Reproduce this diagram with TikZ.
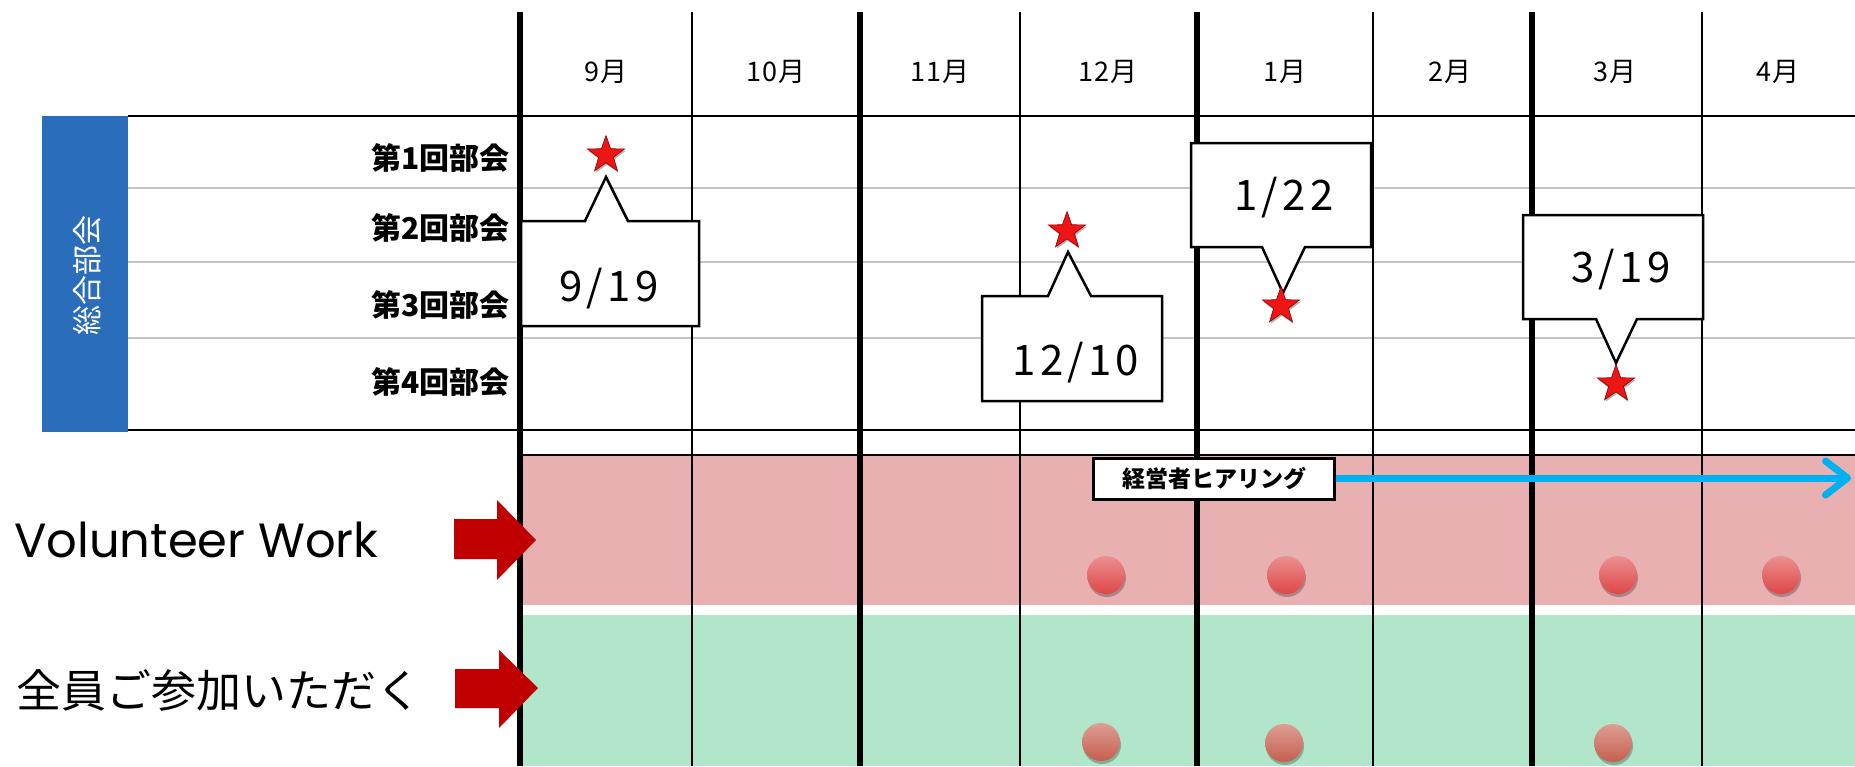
\documentclass[tikz,border=0pt]{standalone}
\usepackage{fontspec}
\setmainfont{Noto Sans CJK JP}
\newfontfamily\datefont[LetterSpace=10]{Noto Sans CJK JP}
\newfontfamily\monthfont[LetterSpace=4]{Noto Sans CJK JP}
\newfontfamily\latinfont{Poppins}
\usetikzlibrary{shapes.geometric,arrows.meta,shadows}
\definecolor{barblue}{HTML}{2A6EBB}
\definecolor{gridgray}{HTML}{C4C4C4}
\definecolor{pinkband}{HTML}{E8B0B0}
\definecolor{greenband}{HTML}{B2E6CA}
\definecolor{arrowred}{HTML}{C00000}
\definecolor{skyblue}{HTML}{00B0F0}
\definecolor{dotred}{HTML}{DE4646}
\definecolor{dotbrown}{HTML}{C65E4E}
\definecolor{starred}{HTML}{F01515}
\begin{document}
\begin{tikzpicture}[x=1pt,y=-1pt,
  rowline/.style={draw=gridgray,line width=2pt},
  hline/.style={draw=black,line width=2.5pt},
  thickv/.style={draw=black,line width=5.5pt},
  thinv/.style={draw=black,line width=2pt},
  monthlbl/.style={font=\monthfont\fontsize{27}{27}\selectfont,inner sep=0pt},
  rowlbl/.style={font=\fontsize{30}{30}\selectfont\bfseries,anchor=east,inner sep=0pt},
  callout/.style={fill=white,draw=black,line width=2.5pt,line join=miter},
  datelbl/.style={font=\datefont\fontsize{42}{42}\selectfont,inner sep=0pt},
  starmark/.style={star,star points=5,star point ratio=2.5,minimum size=39pt,inner sep=0pt,
    fill=starred,draw=red!55!black,line width=0.6pt,
    drop shadow={shadow xshift=1pt,shadow yshift=-2pt,opacity=0.3,fill=black}},
  dotA/.style={circle,minimum size=38pt,inner sep=0pt,top color=dotred!60!white,bottom color=dotred,
    drop shadow={shadow xshift=1pt,shadow yshift=-3pt,opacity=0.25,fill=black}},
  dotB/.style={circle,minimum size=38pt,inner sep=0pt,top color=dotbrown!60!white,bottom color=dotbrown,
    drop shadow={shadow xshift=1pt,shadow yshift=-3pt,opacity=0.25,fill=black}},
  bigarrow/.style={fill=arrowred},
  sidelbl/.style={anchor=west,inner sep=0pt}
]
\useasboundingbox (0,0) rectangle (1855,766);
\fill[white] (0,0) rectangle (1855,766);

% blue bar
\fill[barblue] (42,116) rectangle (128,432);
\node[rotate=90,text=white,font=\fontsize{30}{30}\selectfont,inner sep=0pt] (bar) at (87,275) {総合部会};

% bands
\fill[pinkband] (520,455) rectangle (1855,605);
\fill[greenband] (520,615) rectangle (1855,766);

% grid
\foreach \y in {188,262,338} \draw[rowline] (128,\y) -- (1855,\y);
\draw[hline] (128,116) -- (1855,116);
\draw[hline] (128,430) -- (1855,430);
\draw[hline] (520,455) -- (1855,455);
\foreach \x in {692,1020,1373,1702} \draw[thinv] (\x,12) -- (\x,766);
\foreach \x in {520,860,1197,1532} \draw[thickv] (\x,12) -- (\x,766);

% months
\node[monthlbl] (m9) at (606,72) {9月};
\node[monthlbl] (m10) at (776,72) {10月};
\node[monthlbl] (m11) at (940,72) {11月};
\node[monthlbl] (m12) at (1108,72) {12月};
\node[monthlbl] (m1) at (1285,72) {1月};
\node[monthlbl] (m2) at (1450,72) {2月};
\node[monthlbl] (m3) at (1615,72) {3月};
\node[monthlbl] (m4) at (1778,72) {4月};

% row labels
\node[rowlbl] (r1) at (510,158) {第1回部会};
\node[rowlbl] (r2) at (510,228) {第2回部会};
\node[rowlbl] (r3) at (510,305) {第3回部会};
\node[rowlbl] (r4) at (510,382) {第4回部会};

% callouts
\draw[callout] (521,221) -- (585,221) -- (606,177) -- (628,221) -- (699,221) -- (699,326) -- (521,326) -- cycle;
\node[datelbl] (d1) at (609,289) {9/19};
\node[starmark] (s1) at (606,155) {};

\draw[callout] (982,296) -- (1048,296) -- (1068,252) -- (1091,296) -- (1162,296) -- (1162,401) -- (982,401) -- cycle;
\node[datelbl] (d2) at (1076,363) {12/10};
\node[starmark] (s2) at (1067,231) {};

\draw[callout] (1191,143) -- (1371,143) -- (1371,247) -- (1305,247) -- (1283,293) -- (1262,247) -- (1191,247) -- cycle;
\node[datelbl] (d3) at (1284,198) {1/22};
\node[starmark] (s3) at (1281,306) {};

\draw[callout] (1523,215) -- (1703,215) -- (1703,319) -- (1637,319) -- (1616,363) -- (1596,319) -- (1523,319) -- cycle;
\node[datelbl] (d4) at (1621,270) {3/19};
\node[starmark] (s4) at (1616,384) {};

% lower section labels and arrows
\node[sidelbl,font=\latinfont\fontsize{48}{48}\selectfont] (vw) at (14,540) {Volunteer Work};
\node[sidelbl,font=\fontsize{45}{45}\selectfont] (all) at (16,690) {全員ご参加いただく};
\fill[bigarrow] (454,519) -- (497,519) -- (497,500) -- (536,540) -- (497,580) -- (497,559) -- (454,559) -- cycle;
\fill[bigarrow] (455,669) -- (499,669) -- (499,650) -- (538,688) -- (499,728) -- (499,708) -- (455,708) -- cycle;

% hearing
\node[draw=black,fill=white,line width=2.5pt,minimum width=241pt,minimum height=41pt,inner sep=0pt,
  font=\fontsize{23}{23}\selectfont\bfseries] (hear) at (1214,479) {経営者ヒアリング};
\coordinate (hearend) at (1851,478);
\draw[draw=skyblue,line width=7pt,-{Straight Barb[length=22pt,width=34pt,round]}] (hear.east |- 0,478) -- (hearend);

% dots
\node[dotA] (v1) at (1106,575) {};
\node[dotA] (v2) at (1286,575) {};
\node[dotA] (v3) at (1618,575) {};
\node[dotA] (v4) at (1781,575) {};
\node[dotB] (a1) at (1101,742) {};
\node[dotB] (a2) at (1284,743) {};
\node[dotB] (a3) at (1613,743) {};
\end{tikzpicture}
\end{document}
